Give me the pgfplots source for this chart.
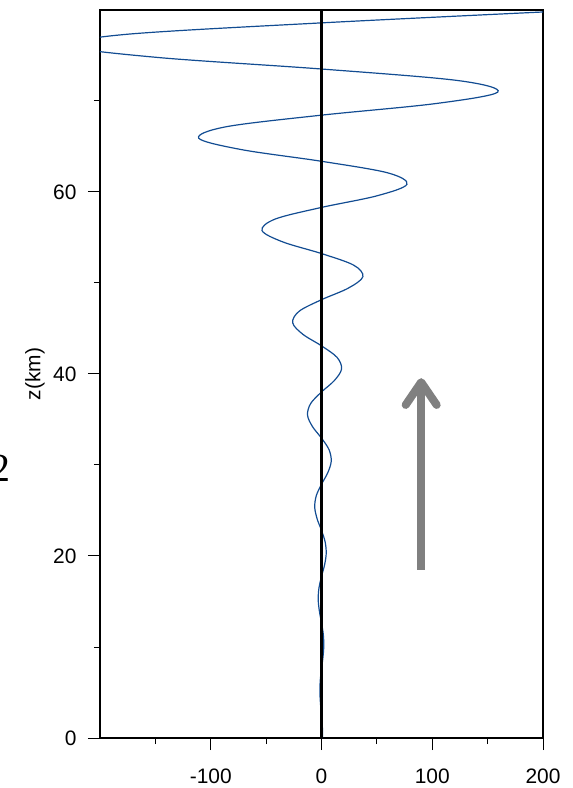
\documentclass[border=0pt]{standalone}
\usepackage{fontspec}
\setmainfont{Liberation Sans}
\newfontfamily\seriffont{Liberation Serif}
\usepackage{pgfplots}
\pgfplotsset{compat=1.18}
\definecolor{wave}{RGB}{18,76,146}
\definecolor{arrowgray}{RGB}{128,128,128}

\begin{document}
\begin{tikzpicture}
\begin{axis}[
  name=ax,
  scale only axis, width=443bp, height=728bp,
  xmin=-200, xmax=200, ymin=0, ymax=80,
  xtick={-100,0,100,200}, minor xtick={-150,-50,50,150},
  ytick={0,20,40,60}, minor ytick={10,30,50,70},
  tick align=outside, tick pos=left,
  major tick length=12bp, minor tick length=6bp,
  every tick/.style={black, line width=1bp},
  axis line style={line width=1.3bp},
  ticklabel style={font=\fontsize{21}{24}\selectfont},
  xticklabel style={yshift=-15bp},
  yticklabel style={xshift=-8bp},
  /pgf/number format/assume math mode=true,
  ylabel={\fontsize{21}{24}\selectfont z(km)},
  every axis y label/.style={at={(axis description cs:0,0.5)}, rotate=90,
    anchor=center, yshift=65bp},
]
% wave perturbation, growing amplitude with height
\addplot[wave, line width=1.2bp, smooth, tension=0.55] coordinates {
(1,0) (0.774,1.2675) (0,2.535) (-0.928,3.8025) (-1.436,5.07) (-1.112,6.3375)
(0,7.605) (1.333,8.8725) (2.063,10.14) (1.597,11.4075) (0,12.675)
(-1.914,13.9425) (-2.964,15.21) (-2.294,16.4775) (0,17.745) (2.749,19.0125)
(4.257,20.28) (3.296,21.5475) (0,22.815) (-3.950,24.0825) (-6.115,25.35)
(-4.734,26.6175) (0,27.885) (5.673,29.1525) (8.784,30.42) (6.800,31.6875)
(0,32.955) (-8.149,34.2225) (-12.617,35.49) (-9.767,36.7575) (0,38.025)
(11.705,39.2925) (18.123,40.56) (14.029,41.8275) (0,43.095) (-16.813,44.3625)
(-26.031,45.63) (-20.151,46.8975) (0,48.165) (24.151,49.4325) (37.392,50.7)
(28.945,51.9675) (0,53.235) (-34.690,54.5025) (-53.71,55.77) (-41.58,57.0375)
(0,58.305) (49.83,59.5725) (77.15,60.84) (59.72,62.1075) (0,63.375)
(-71.57,64.6425) (-110.81,65.91) (-85.78,67.1775) (0,68.445) (102.81,69.7125)
(159.17,70.98) (123.21,72.2475) (0,73.515) (-147.67,74.7825) (-228.62,76.05)
(-176.97,77.3175) (0,78.585) (212.1,79.8525)
};
% zero line
\addplot[black, line width=2.2bp] coordinates {(0,0) (0,80)};
% upward arrow
\draw[arrowgray, line width=8bp] (axis cs:90,18.5) -- (axis cs:90,38.8);
\draw[arrowgray, line width=8bp, line cap=round, line join=round]
  (axis cs:76,36.6) -- (axis cs:90,39.1) -- (axis cs:104,36.6);
\end{axis}
\node[font=\seriffont\fontsize{40}{40}\selectfont, inner sep=0pt, anchor=center]
  at ([shift={(-100bp,269.5bp)}]ax.south west) {2};
\pgfresetboundingbox
\path ([shift={(-100bp,-50bp)}]ax.south west) rectangle ([shift={(30bp,10bp)}]ax.north east);
\end{tikzpicture}
\end{document}
